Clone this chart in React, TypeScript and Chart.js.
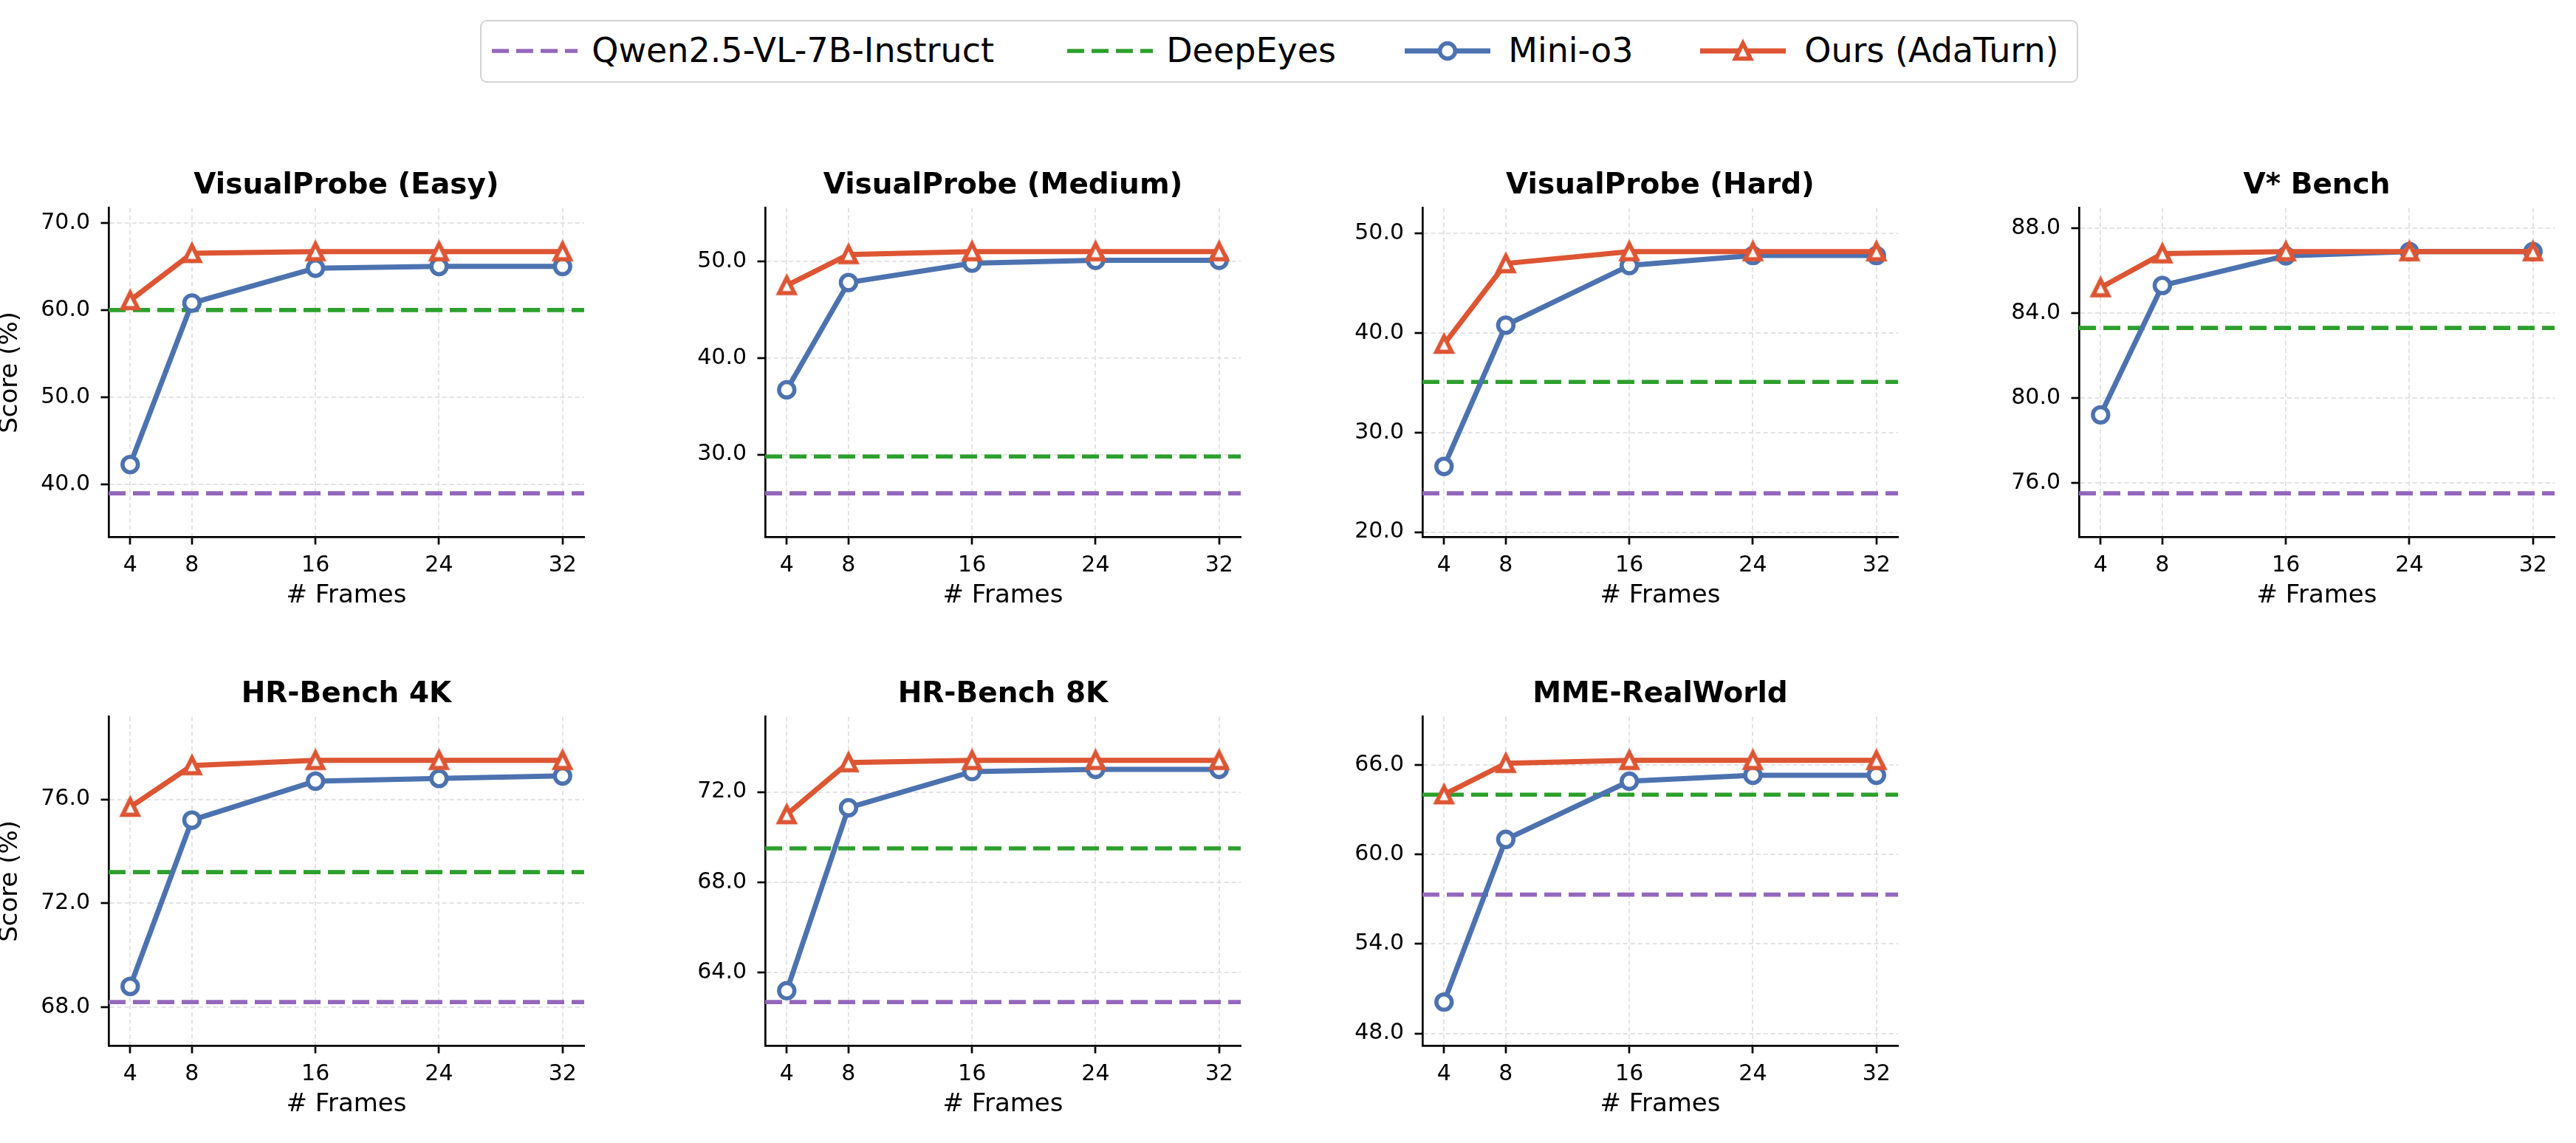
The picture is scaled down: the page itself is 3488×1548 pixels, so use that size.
import React, { useEffect, useRef } from "react";
import { Chart, registerables } from "chart.js";

Chart.register(...registerables);

// ---- data ----
const frames = [4, 8, 16, 24, 32];
const xTickValues = [4, 8, 16, 24, 32];

const benchmarkNames = [
  "VisualProbe (Easy)",
  "VisualProbe (Medium)",
  "VisualProbe (Hard)",
  "V* Bench",
  "HR-Bench 4K",
  "HR-Bench 8K",
  "MME-RealWorld",
];

// constant baselines (one value per benchmark)
const qwenScores = [39.0, 26.0, 23.9, 75.5, 68.2, 62.7, 57.3];
const deepEyesScores = [60.0, 29.8, 35.1, 83.3, 73.2, 69.5, 64.0];

// scores per benchmark over the frame budgets
const miniO3Scores = [
  [42.3, 60.8, 64.8, 65.0, 65.0],
  [36.7, 47.8, 49.8, 50.1, 50.1],
  [26.6, 40.8, 46.8, 47.8, 47.8],
  [79.2, 85.3, 86.7, 86.9, 86.9],
  [68.8, 75.2, 76.7, 76.8, 76.9],
  [63.2, 71.3, 72.9, 73.0, 73.0],
  [50.1, 61.0, 64.9, 65.3, 65.3],
];
const adaTurnScores = [
  [61.1, 66.5, 66.7, 66.7, 66.7],
  [47.5, 50.7, 51.0, 51.0, 51.0],
  [38.9, 47.0, 48.2, 48.2, 48.2],
  [85.2, 86.8, 86.9, 86.9, 86.9],
  [75.7, 77.3, 77.5, 77.5, 77.5],
  [71.0, 73.3, 73.4, 73.4, 73.4],
  [64.0, 66.1, 66.3, 66.3, 66.3],
];

const yTickValues = [
  [40, 50, 60, 70],
  [30, 40, 50],
  [20, 30, 40, 50],
  [76, 80, 84, 88],
  [68, 72, 76],
  [64, 68, 72],
  [48, 54, 60, 66],
];

const legendLabels = ["Qwen2.5-VL-7B-Instruct", "DeepEyes", "Mini-o3", "Ours (AdaTurn)"];

// ---- styling ----
const FONT = "'DejaVu Sans', sans-serif";
const PURPLE = "#9467bd";
const GREEN = "#2ca02c";
const BLUE = "#4c72b0";
const RED = "#dd5533";
const GRID = "#e3e3e3";

const MARKER_HALF = 10.4;
const MARKER_EDGE = 5.6;
const DATA_LW = 7;
const BASE_LW = 5.6;
const BASE_DASH = [23, 10];

// subplot grid geometry (page pixels)
const AXES_LEFT = [147, 1036, 1926, 2815];
const AXES_TOP = [282, 971];
const AXES_W = 644;
const AXES_H = 445;
const Y_AXIS_W = 147;
const TITLE_H = 92;
const X_AXIS_H = 112;
const RIGHT_PAD = 24;

Chart.defaults.font.family = FONT;
Chart.defaults.color = "#000";

function makeTriangle(color: string): HTMLCanvasElement {
  const size = 44;
  const c = document.createElement("canvas");
  c.width = size;
  c.height = size;
  const ctx = c.getContext("2d")!;
  const cx = size / 2;
  const cy = size / 2;
  const h = MARKER_HALF;
  ctx.beginPath();
  ctx.moveTo(cx, cy - h);
  ctx.lineTo(cx - h, cy + h);
  ctx.lineTo(cx + h, cy + h);
  ctx.closePath();
  ctx.fillStyle = "#fff";
  ctx.fill();
  ctx.lineJoin = "miter";
  ctx.lineWidth = MARKER_EDGE;
  ctx.strokeStyle = color;
  ctx.stroke();
  return c;
}

function Panel({ index, col, row }: { index: number; col: number; row: number }) {
  const ref = useRef<HTMLCanvasElement | null>(null);

  useEffect(() => {
    if (!ref.current) return;
    const allValues = [
      qwenScores[index],
      deepEyesScores[index],
      ...miniO3Scores[index],
      ...adaTurnScores[index],
    ];
    const lo = Math.min(...allValues);
    const hi = Math.max(...allValues);
    const yPad = 0.18 * (hi - lo);
    const fMin = Math.min(...frames);
    const fMax = Math.max(...frames);
    const xMin = fMin - 0.05 * (fMax - fMin);
    const xMax = fMax + 0.05 * (fMax - fMin);
    const triangle = makeTriangle(RED);

    const gridOpts = {
      color: GRID,
      lineWidth: 2,
      drawTicks: true,
      tickLength: 10.5,
      tickColor: "#000",
      tickWidth: 2.7,
      tickBorderDash: [],
    };
    const borderOpts = { display: true, color: "#000", width: 2.7, dash: [6, 4] };

    const chart = new Chart(ref.current, {
      type: "line",
      data: {
        datasets: [
          {
            label: legendLabels[3],
            data: frames.map((f, i) => ({ x: f, y: adaTurnScores[index][i] })),
            borderColor: RED,
            borderWidth: DATA_LW,
            borderJoinStyle: "round",
            pointStyle: triangle,
            pointRadius: 10,
            tension: 0,
            order: 0,
          },
          {
            label: legendLabels[2],
            data: frames.map((f, i) => ({ x: f, y: miniO3Scores[index][i] })),
            borderColor: BLUE,
            borderWidth: DATA_LW,
            borderJoinStyle: "round",
            pointStyle: "circle",
            pointRadius: MARKER_HALF,
            pointBorderWidth: MARKER_EDGE,
            pointBackgroundColor: "#fff",
            pointBorderColor: BLUE,
            tension: 0,
            order: 1,
          },
          {
            label: legendLabels[1],
            data: [
              { x: xMin, y: deepEyesScores[index] },
              { x: xMax, y: deepEyesScores[index] },
            ],
            borderColor: GREEN,
            borderWidth: BASE_LW,
            borderDash: BASE_DASH,
            borderCapStyle: "butt",
            pointRadius: 0,
            order: 2,
          },
          {
            label: legendLabels[0],
            data: [
              { x: xMin, y: qwenScores[index] },
              { x: xMax, y: qwenScores[index] },
            ],
            borderColor: PURPLE,
            borderWidth: BASE_LW,
            borderDash: BASE_DASH,
            borderCapStyle: "butt",
            pointRadius: 0,
            order: 3,
          },
        ],
      },
      options: {
        animation: false,
        responsive: false,
        events: [],
        layout: { padding: { left: 0, right: RIGHT_PAD, top: 0, bottom: 0 } },
        plugins: {
          legend: { display: false },
          tooltip: { enabled: false },
          title: {
            display: true,
            text: benchmarkNames[index],
            fullSize: false,
            color: "#000",
            font: { family: FONT, size: 39, weight: "bold", lineHeight: 1.2 },
            padding: { top: 38, bottom: 7 },
          },
        },
        scales: {
          x: {
            type: "linear",
            min: xMin,
            max: xMax,
            afterBuildTicks: (s: any) => {
              s.ticks = xTickValues.map((v) => ({ value: v }));
            },
            afterFit: (s: any) => {
              s.height = X_AXIS_H;
            },
            ticks: {
              autoSkip: false,
              maxRotation: 0,
              padding: 10.5,
              color: "#000",
              font: { family: FONT, size: 30 },
              callback: (v: any) => String(v),
            },
            grid: gridOpts,
            border: borderOpts,
            title: {
              display: true,
              text: "# Frames",
              color: "#000",
              font: { family: FONT, size: 34, lineHeight: 1.2 },
              padding: { top: 0, bottom: 11.6 },
            },
          },
          y: {
            type: "linear",
            min: lo - yPad,
            max: hi + yPad,
            afterBuildTicks: (s: any) => {
              s.ticks = yTickValues[index].map((v) => ({ value: v }));
            },
            afterFit: (s: any) => {
              s.width = Y_AXIS_W;
            },
            ticks: {
              autoSkip: false,
              padding: 14.5,
              color: "#000",
              font: { family: FONT, size: 30 },
              callback: (v: any) => Number(v).toFixed(1),
            },
            grid: gridOpts,
            border: borderOpts,
            title: {
              display: col === 0,
              text: "Score (%)",
              color: "#000",
              font: { family: FONT, size: 34, lineHeight: 0.8 },
              padding: { top: 1, bottom: 0 },
            },
          },
        },
      },
    } as any);
    return () => chart.destroy();
  }, [index, col]);

  const w = Y_AXIS_W + AXES_W + RIGHT_PAD;
  const h = TITLE_H + AXES_H + X_AXIS_H;
  return (
    <canvas
      ref={ref}
      width={w}
      height={h}
      style={{
        position: "absolute",
        left: AXES_LEFT[col] - Y_AXIS_W,
        top: AXES_TOP[row] - TITLE_H,
        width: w,
        height: h,
      }}
    />
  );
}

function LegendHandle({ kind }: { kind: number }) {
  const W = 116;
  const H = 40;
  const cy = H / 2;
  const cx = W / 2;
  const hh = MARKER_HALF;
  if (kind === 0 || kind === 1) {
    return (
      <svg width={W} height={H} style={{ display: "block" }}>
        <line
          x1={0}
          y1={cy}
          x2={W}
          y2={cy}
          stroke={kind === 0 ? PURPLE : GREEN}
          strokeWidth={BASE_LW}
          strokeDasharray={BASE_DASH.join(" ")}
        />
      </svg>
    );
  }
  const color = kind === 2 ? BLUE : RED;
  return (
    <svg width={W} height={H} style={{ display: "block" }}>
      <line x1={0} y1={cy} x2={W} y2={cy} stroke={color} strokeWidth={DATA_LW} />
      {kind === 2 ? (
        <circle cx={cx} cy={cy} r={hh} fill="#fff" stroke={color} strokeWidth={MARKER_EDGE} />
      ) : (
        <polygon
          points={`${cx},${cy - hh} ${cx - hh},${cy + hh} ${cx + hh},${cy + hh}`}
          fill="#fff"
          stroke={color}
          strokeWidth={MARKER_EDGE}
          strokeLinejoin="miter"
        />
      )}
    </svg>
  );
}

// legend entry placement (page pixels)
const LEGEND_BOX = { left: 650, top: 27, width: 2164, height: 85, border: 2.8 };
const LEGEND_HANDLE_X = [667, 1446, 1903, 2303];
const LEGEND_TEXT_X = [802, 1580, 2043, 2444];

function Legend() {
  const inner = LEGEND_BOX.height - 2 * LEGEND_BOX.border;
  const off = LEGEND_BOX.left + LEGEND_BOX.border;
  return (
    <div
      style={{
        position: "absolute",
        left: LEGEND_BOX.left,
        top: LEGEND_BOX.top,
        width: LEGEND_BOX.width,
        height: LEGEND_BOX.height,
        boxSizing: "border-box",
        border: `${LEGEND_BOX.border}px solid #d3d3d3`,
        borderRadius: 9,
        background: "#fff",
      }}
    >
      {legendLabels.map((label, i) => (
        <React.Fragment key={label}>
          <div style={{ position: "absolute", left: LEGEND_HANDLE_X[i] - off, top: (inner - 40) / 2 }}>
            <LegendHandle kind={i} />
          </div>
          <div
            style={{
              position: "absolute",
              left: LEGEND_TEXT_X[i] - off,
              top: 0,
              height: inner,
              lineHeight: `${inner}px`,
              fontFamily: FONT,
              fontSize: 46,
              color: "#000",
              whiteSpace: "nowrap",
            }}
          >
            {label}
          </div>
        </React.Fragment>
      ))}
    </div>
  );
}

export default function App() {
  const panels = benchmarkNames.map((_, i) => ({ index: i, col: i % 4, row: Math.floor(i / 4) }));
  return (
    <div
      style={{
        position: "absolute",
        left: 0,
        top: 0,
        width: 3488,
        height: 1548,
        overflow: "hidden",
        background: "#fff",
      }}
    >
      <Legend />
      {panels.map((p) => (
        <Panel key={p.index} index={p.index} col={p.col} row={p.row} />
      ))}
    </div>
  );
}
